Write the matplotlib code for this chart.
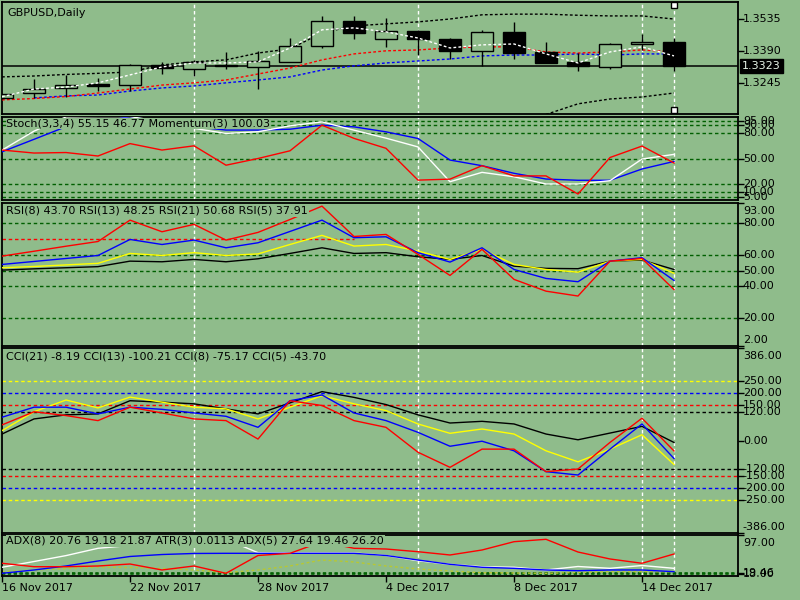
import numpy as np
import matplotlib
matplotlib.use("Agg")
from matplotlib import pyplot as plt
from matplotlib import transforms

nan = np.nan

# bars (daily)
dates = ["16 Nov 2017", "17 Nov 2017", "20 Nov 2017", "21 Nov 2017", "22 Nov 2017",
         "23 Nov 2017", "24 Nov 2017", "27 Nov 2017", "28 Nov 2017", "29 Nov 2017",
         "30 Nov 2017", "1 Dec 2017", "4 Dec 2017", "5 Dec 2017", "6 Dec 2017",
         "7 Dec 2017", "8 Dec 2017", "11 Dec 2017", "12 Dec 2017", "13 Dec 2017",
         "14 Dec 2017", "15 Dec 2017"]
date_ticks = [0, 4, 8, 12, 16, 20]
grid_bars = [6, 13, 20]
marker_bar = 21

opens = [1.3179, 1.3200, 1.3223, 1.3241, 1.3238, 1.3327, 1.3309, 1.3327, 1.3318, 1.3340, 1.3413,
         1.3527, 1.3445, 1.3482, 1.3446, 1.3393, 1.3478, 1.3388, 1.3342, 1.3318, 1.3422, 1.3431]
highs = [1.3197, 1.3263, 1.3281, 1.3268, 1.3333, 1.3342, 1.3351, 1.3386, 1.3391, 1.3450, 1.3551,
         1.3551, 1.3540, 1.3487, 1.3448, 1.3487, 1.3523, 1.3432, 1.3381, 1.3429, 1.3469, 1.3449]
lows = [1.3174, 1.3177, 1.3185, 1.3212, 1.3212, 1.3286, 1.3278, 1.3311, 1.3219, 1.3340, 1.3406,
        1.3445, 1.3411, 1.3373, 1.3355, 1.3324, 1.3357, 1.3336, 1.3302, 1.3311, 1.3396, 1.3302]
closes = [1.3195, 1.3218, 1.3236, 1.3234, 1.3327, 1.3313, 1.3342, 1.3322, 1.3346, 1.3414, 1.3527,
          1.3472, 1.3481, 1.3445, 1.3393, 1.3476, 1.3384, 1.3339, 1.3324, 1.3422, 1.3431, 1.3323]
last_price = 1.3323

band_upper = [1.3274, 1.3278, 1.3285, 1.3290, 1.3296, 1.3328, 1.3342, 1.3351, 1.3382, 1.3401, 1.3473,
              1.3505, 1.3514, 1.3523, 1.3536, 1.3555, 1.3558, 1.3558, 1.3553, 1.3550, 1.3550, 1.3536]
band_lower = [nan] * 17 + [1.3104, 1.3152, 1.3174, 1.3183, 1.3201]
ma_fast = [1.3184, 1.3219, 1.3228, 1.3247, 1.3283, 1.3319, 1.3337, 1.3337, 1.3342, 1.3405, 1.3487,
           1.3496, 1.3478, 1.3450, 1.3405, 1.3419, 1.3423, 1.3378, 1.3337, 1.3387, 1.3410, 1.3369]
ma_mid = [1.3170, 1.3176, 1.3185, 1.3201, 1.3219, 1.3237, 1.3247, 1.3260, 1.3287, 1.3314, 1.3351,
          1.3378, 1.3392, 1.3396, 1.3405, 1.3410, 1.3410, 1.3387, 1.3382, 1.3387, 1.3396, 1.3387]
ma_slow = [nan, 1.3179, 1.3188, 1.3192, 1.3210, 1.3224, 1.3233, 1.3247, 1.3260, 1.3274, 1.3305,
           1.3324, 1.3337, 1.3346, 1.3355, 1.3369, 1.3373, 1.3373, 1.3378, 1.3373, 1.3378, 1.3378]
price_ticks = [1.3535, 1.3390, 1.3245]

# stochastic + momentum
stoch_main = [60.2, 82.7, 99.6, 100, 100, 94, 86, 80, 82, 89, 93.7, 83.9, 74.4, 64, 22.7, 33.8,
              28.6, 20, 20, 23.9, 49.6, 55.15]
stoch_signal = [58.2, 73, 88, 93, 100, 93, 88, 84, 84, 85, 89.8, 87.8, 81.9, 74, 48.4, 41.7, 32.7,
                25.9, 24.4, 24.4, 37.8, 46.77]
momentum = [100.55, 100.43, 100.45, 100.31, 100.81, 100.55, 100.72, 99.94, 100.21, 100.52, 101.55,
            101.02, 100.62, 99.34, 99.38, 99.92, 99.51, 99.51, 98.78, 100.25, 100.71, 100.03]
stoch_levels = [95, 90, 80, 50, 20, 10, 5]

# RSI
rsi5 = [59.2, 62.3, 65.5, 68.5, 82.1, 74.7, 79.4, 69.4, 74.3, 82.5, 91, 71.7, 73, 60.3, 46.9, 63.5,
        44.4, 36.9, 33.8, 56, 57.7, 37.91]
rsi8 = [53.9, 55.8, 57.7, 59.6, 69.8, 66.6, 69.4, 64.5, 67.7, 74.9, 82.1, 70.9, 71.5, 61.4, 55.4,
        64.5, 50.7, 45, 42.9, 56, 58.2, 43.70]
rsi13 = [51.8, 52.6, 53.6, 54.6, 60.9, 59.6, 61.4, 59.6, 60.6, 66.6, 72.4, 65.6, 66.6, 62.4, 57.1,
         63.5, 53.9, 50.7, 49, 56, 57.1, 48.25]
rsi21 = [50.3, 51.1, 51.8, 52.5, 56, 55.6, 57.1, 55.6, 57.5, 60.9, 64.5, 60.9, 61.4, 58.8, 57.1,
         59.6, 52.8, 51.4, 51.2, 56, 56.7, 50.68]
rsi_levels = [80, 60, 50, 40, 20]
rsi_labels = [93, 80, 60, 50, 40, 20, 2]
rsi_red_level, rsi_red_end = 70, 11

# CCI
cci21 = [27, 90, 107, 111, 166, 160, 153, 132, 111, 157, 204, 180, 150, 107, 73, 80, 69, 27, 3, 31,
         59, -8.19]
cci13 = [41, 120, 169, 136, 181, 160, 139, 132, 90, 139, 187, 153, 125, 69, 30, 48, 27, -43, -89,
         -36, 24, -100.21]
cci8 = [97, 139, 139, 111, 139, 130, 115, 101, 55, 166, 190, 115, 83, 34, -24, -3, -43, -130, -144,
        -36, 69, -75.17]
cci5 = [65, 120, 104, 83, 139, 115, 90, 83, 6, 166, 146, 83, 55, -49, -112, -36, -36, -130, -119,
        -8, 93, -43.70]
cci_levels = {250: "yellow", 200: "blue", 150: "red", 120: "black"}
cci_labels = [386, 250, 200, 150, 120, 0, -120, -150, -200, -250, -386]

# ADX / ATR
adx_white = [34.8, 45.9, 57.3, 71.4, 76.8, 82.6, 87.4, 88.7, 62.9, 62.3, 62.3, 62.3, 57.5, 47.5,
             40.5, 35.9, 34.8, 29.6, 36.3, 32.8, 38.2, 32.8]
adx_blue = [23.2, 29.6, 37.3, 46.9, 55.6, 59.4, 61.4, 61.7, 61.7, 61.7, 61.7, 61.7, 57.5, 48.8, 40.5,
            34.8, 32.8, 29.6, 28.2, 29.6, 29.6, 26.3]
adx_red = [42.5, 35.9, 35.9, 37.3, 41.1, 29.6, 37.3, 23.2, 57.5, 61.7, 84.1, 71.4, 70, 64.8, 58.5,
           68.1, 84.1, 88.7, 64.2, 50.8, 42.5, 60.4]
atr_line = [26.3, 29.6, 32.5, 35.3, 34.4, 32.5, 29.6, 24.4, 29.6, 37.3, 48.8, 45, 37.3, 31.5, 27.6,
            24.4, 23.8, 23.2, 24.7, 26.3, 26.3, 26.3]
adx_levels = [21.3, 24.4]

bg = "#8fbc8b"
lvl_green = "#005f00"
x = np.arange(len(dates))
plt.rcParams["font.family"] = "DejaVu Sans"
plt.rcParams["font.size"] = 8

fig = plt.figure(dpi=100, figsize=(8, 6), facecolor=bg)


def panel(top, bottom):
    ax = fig.add_axes([2 / 800, 1 - bottom / 600, 736 / 800, (bottom - top) / 600])
    ax.set_facecolor(bg)
    ax.set_xlim(0, 23)
    for s in ax.spines.values():
        s.set_linewidth(1.3)
    ax.set_xticks([])
    for b in grid_bars + [marker_bar]:
        ax.axvline(b, color="white", lw=1, ls=(0, (2.5, 2)), zorder=1)
    return ax


def right_labels(ax, vals, texts=None):
    lo, hi = ax.get_ylim()
    ax.yaxis.tick_right()
    ax.set_yticks(vals)
    ax.set_yticklabels([])
    ax.tick_params(axis="y", direction="out", length=4, width=1)
    if texts is None:
        texts = ["%.2f" % v for v in vals]
    for v, t in zip(vals, texts):
        f = (v - lo) / (hi - lo)
        va, dy = "center", 0
        if f > 0.96:
            f, va, dy = 1.0, "top", -2
        elif f < 0.04:
            f, va, dy = 0.0, "bottom", 1
        ax.annotate(t, xy=(1, f), xycoords="axes fraction", xytext=(3.5, dy),
                    textcoords="offset points", va=va, ha="left", fontsize=8,
                    annotation_clip=False)


def title(ax, txt):
    ax.text(0.006, 0.98, txt, transform=ax.transAxes, va="top", ha="left", fontsize=8,
            zorder=20, bbox=dict(fc=bg, ec="none", pad=0.6))


dash = (0, (2, 1.6))

# ---- main price panel
ax = panel(2, 114)
ax.set_ylim(1.3106, 1.3613)
ax.axhline(last_price, color="black", lw=1.1, zorder=2)
ax.plot(x, band_upper, c="black", lw=1, ls=dash, zorder=3)
ax.plot(x, band_lower, c="black", lw=1, ls=dash, zorder=3)
ax.plot(x, ma_slow, c="blue", lw=1, ls=dash, zorder=3)
ax.plot(x, ma_mid, c="red", lw=1, ls=dash, zorder=3)
for i in x:
    o, h, l, c = opens[i], highs[i], lows[i], closes[i]
    ax.vlines(i, l, h, color="black", lw=1, zorder=4)
    bottom, height = min(o, c), max(abs(c - o), 0.00012)
    face = "black" if c < o else bg
    ax.bar(i, height, bottom=bottom, width=0.69, color=face, edgecolor="black", lw=1, zorder=5)
ax.plot(x, ma_fast, c="white", lw=1, ls=dash, zorder=6)
trans = transforms.blended_transform_factory(ax.transData, ax.transAxes)
ax.plot([marker_bar, marker_bar], [0.97, 0.035], transform=trans, ls="none", marker="s",
        ms=4, mfc="white", mec="black", mew=1, zorder=8, clip_on=False)
right_labels(ax, price_ticks, ["%.4f" % p for p in price_ticks])
ax.annotate("%.4f" % last_price, xy=(1, last_price), xycoords=("axes fraction", "data"),
            xytext=(3, 0), textcoords="offset points", va="center", ha="left", fontsize=8,
            color="#e8f4e8", bbox=dict(boxstyle="square,pad=0.2", fc="black", ec="black"),
            annotation_clip=False)
ax.text(0.007, 0.95, "GBPUSD,Daily", transform=ax.transAxes, va="top", ha="left", fontsize=8)

# ---- stochastic panel
ax = panel(117, 200)
ax.set_ylim(1, 99.5)
for lv in stoch_levels:
    ax.axhline(lv, color=lvl_green, lw=1, ls=(0, (2.5, 2)), zorder=1)
ax.plot(x, stoch_signal, c="blue", lw=1, zorder=3)
ax.plot(x, stoch_main, c="white", lw=1, zorder=3)
axm = ax.twinx()
axm.set_ylim(98.54, 101.88)
axm.set_yticks([])
for s in axm.spines.values():
    s.set_visible(False)
axm.plot(x, momentum, c="red", lw=1, zorder=3)
right_labels(ax, stoch_levels)
title(axm, "Stoch(3,3,4) 55.15 46.77 Momentum(3) 100.03")

# ---- RSI panel
ax = panel(203, 346)
ax.set_ylim(2, 93)
for lv in rsi_levels:
    ax.axhline(lv, color=lvl_green, lw=1, ls=(0, (2.5, 2)), zorder=1)
ax.hlines(rsi_red_level, 0, rsi_red_end, color="red", lw=1, ls=(0, (2.5, 2)), zorder=1)
ax.plot(x, rsi21, c="black", lw=1, zorder=3)
ax.plot(x, rsi13, c="yellow", lw=1, zorder=3)
ax.plot(x, rsi8, c="blue", lw=1, zorder=3)
ax.plot(x, rsi5, c="red", lw=1, zorder=3)
right_labels(ax, rsi_labels)
title(ax, "RSI(8) 43.70 RSI(13) 48.25 RSI(21) 50.68 RSI(5) 37.91")

# ---- CCI panel
ax = panel(348, 533)
ax.set_ylim(-386, 386)
for lv, col in cci_levels.items():
    ax.axhline(lv, color=col, lw=1, ls=(0, (2.5, 2)), zorder=1)
    ax.axhline(-lv, color=col, lw=1, ls=(0, (2.5, 2)), zorder=1)
ax.plot(x, cci21, c="black", lw=1, zorder=3)
ax.plot(x, cci13, c="yellow", lw=1, zorder=3)
ax.plot(x, cci8, c="blue", lw=1, zorder=3)
ax.plot(x, cci5, c="red", lw=1, zorder=3)
right_labels(ax, cci_labels)
title(ax, "CCI(21) -8.19 CCI(13) -100.21 CCI(8) -75.17 CCI(5) -43.70")

# ---- ADX / ATR panel
ax = panel(535, 576)
ax.set_ylim(18, 97)
for lv in adx_levels:
    ax.axhline(lv, color=lvl_green, lw=1.2, ls=(0, (2, 1.5)), zorder=1)
ax.plot(x, atr_line, c="#b8c832", lw=1, ls=(0, (2, 2)), zorder=2)
ax.plot(x, adx_white, c="white", lw=1, zorder=3)
ax.plot(x, adx_blue, c="blue", lw=1, zorder=3)
ax.plot(x, adx_red, c="red", lw=1, zorder=3)
right_labels(ax, [97] + adx_levels, ["97.00", "18.00", "19.46"])
title(ax, "ADX(8) 20.76 19.18 21.87 ATR(3) 0.0113 ADX(5) 27.64 19.46 26.20")
ax.set_xticks(date_ticks)
ax.set_xticklabels([dates[i] for i in date_ticks], ha="left", fontsize=8)
ax.tick_params(axis="x", direction="out", length=4, width=1, pad=1)

fig.savefig("out.png", dpi=100, facecolor=bg)
